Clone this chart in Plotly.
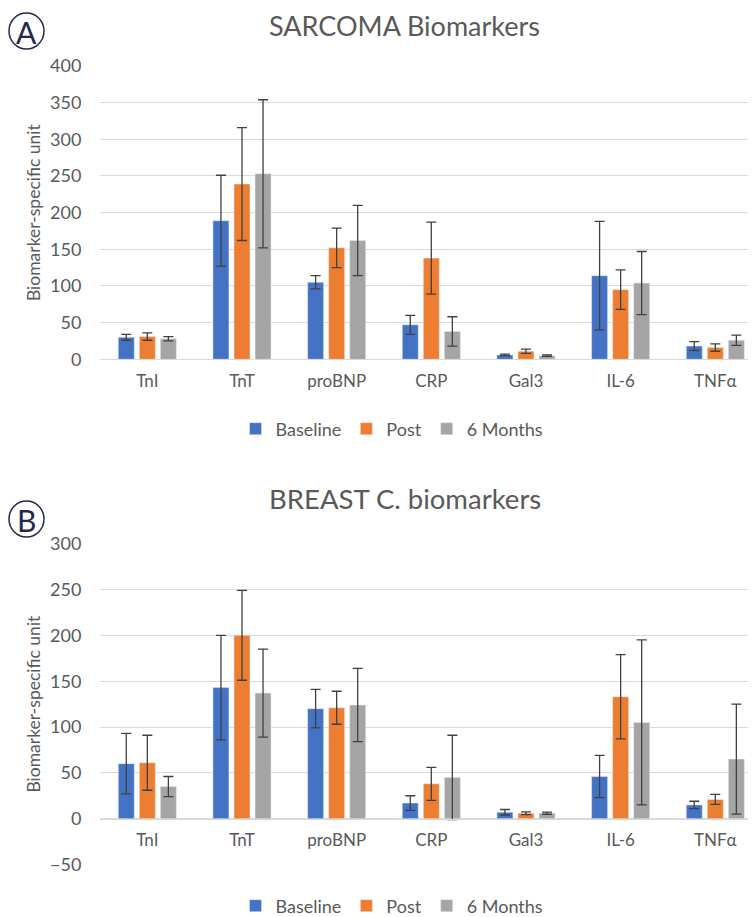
import plotly.graph_objects as go

categories = ["TnI", "TnT", "proBNP", "CRP", "Gal3", "IL-6", "TNFα"]
series_names = ["Baseline", "Post", "6 Months"]
colors = ["#4472C4", "#ED7D31", "#A5A5A5"]

# Panel A: SARCOMA
sarcoma_baseline = [30, 189, 105, 47, 6, 114, 18]
sarcoma_post = [31, 239, 152, 138, 11, 95, 16]
sarcoma_6m = [28, 253, 162, 38, 5, 104, 26]
sarcoma_baseline_err = [4, 62, 9, 13, 1, 74, 6]
sarcoma_post_err = [5, 77, 27, 49, 3, 27, 5]
sarcoma_6m_err = [3, 101, 48, 20, 1, 43, 7]

# Panel B: BREAST C.
breast_baseline = [60, 143, 120, 17, 7, 46, 15]
breast_post = [61, 200, 121, 38, 6, 133, 21]
breast_6m = [35, 137, 124, 45, 6, 105, 65]
breast_baseline_err = [33, 57, 21, 8, 3, 23, 4]
breast_post_err = [30, 49, 18, 18, 1.5, 46, 5.5]
breast_6m_err = [11, 48, 40, 46, 1.2, 90, 60]

title_a = "SARCOMA Biomarkers"
title_b = "BREAST C. biomarkers"
y_title = "Biomarker-specific unit"

FONT = "Lato, 'Open Sans', sans-serif"
TXT = "#595959"
OFF = 8  # page body margin
W, H = 756 - OFF, 917 - OFF

fig = go.Figure()

panel_a = [(sarcoma_baseline, sarcoma_baseline_err), (sarcoma_post, sarcoma_post_err), (sarcoma_6m, sarcoma_6m_err)]
panel_b = [(breast_baseline, breast_baseline_err), (breast_post, breast_post_err), (breast_6m, breast_6m_err)]

for i, (vals, errs) in enumerate(panel_a):
    fig.add_trace(go.Bar(
        x=categories, y=vals, name=series_names[i], marker_color=colors[i],
        error_y=dict(type="data", array=errs, color="#404040", thickness=1.3, width=5),
        xaxis="x", yaxis="y", legend="legend",
    ))
for i, (vals, errs) in enumerate(panel_b):
    fig.add_trace(go.Bar(
        x=categories, y=vals, name=series_names[i], marker_color=colors[i],
        error_y=dict(type="data", array=errs, color="#404040", thickness=1.3, width=5),
        xaxis="x2", yaxis="y2", legend="legend2",
    ))

def py(p):
    return 1 - (p - OFF) / H

def px(p):
    return (p - OFF) / W

x_dom = [px(100), 1.0]
common_x = dict(
    domain=x_dom, range=[-0.5, 6.43], showgrid=False, showline=True,
    linecolor="#d9d9d9", linewidth=1.3, ticks="outside", ticklen=6,
    tickcolor="rgba(0,0,0,0)", tickfont=dict(family=FONT, size=17, color=TXT),
    type="category", fixedrange=True, automargin=False,
)
common_y = dict(
    showgrid=True, gridcolor="#d9d9d9", gridwidth=1.3, zeroline=False,
    showline=False, ticks="outside", ticklen=14, tickcolor="rgba(0,0,0,0)",
    tickfont=dict(family=FONT, size=18, color=TXT),
    title=dict(text=y_title, font=dict(family=FONT, size=17.5, color=TXT), standoff=4),
    dtick=50, automargin=False,
)

fig.update_layout(
    width=W, height=H,
    margin=dict(l=0, r=0, t=0, b=0, autoexpand=False),
    paper_bgcolor="white", plot_bgcolor="white",
    barmode="group", bargap=0.333, bargroupgap=0.24,
    xaxis=dict(anchor="y", **common_x),
    yaxis=dict(domain=[py(359.3), py(66)], range=[0, 400], **common_y),
    xaxis2=dict(anchor="free", position=py(818.7), **common_x),
    yaxis2=dict(domain=[py(864.5), py(543.7)], range=[-50, 300], anchor="x2", **common_y),
    legend=dict(orientation="h", x=px(392), y=py(429), xanchor="center", yanchor="middle",
                font=dict(family=FONT, size=18, color=TXT), bgcolor="rgba(0,0,0,0)"),
    legend2=dict(orientation="h", x=px(392), y=py(906), xanchor="center", yanchor="middle",
                 font=dict(family=FONT, size=18, color=TXT), bgcolor="rgba(0,0,0,0)"),
    showlegend=True,
)

annotations = [
    dict(text=title_a, x=px(404), y=py(8), xref="paper", yref="paper", showarrow=False,
         xanchor="center", yanchor="top", borderpad=0,
         font=dict(family=FONT, size=27, color=TXT)),
    dict(text=title_b, x=px(405), y=py(498), xref="paper", yref="paper", showarrow=False,
         xanchor="center", yanchor="middle", font=dict(family=FONT, size=27.5, color=TXT)),
    dict(text="A", x=px(26.5), y=py(31.5), xref="paper", yref="paper", showarrow=False,
         xanchor="center", yanchor="middle", font=dict(family=FONT, size=30, color="#24284f")),
    dict(text="B", x=px(26.5), y=py(519.5), xref="paper", yref="paper", showarrow=False,
         xanchor="center", yanchor="middle", font=dict(family=FONT, size=30, color="#24284f")),
]
fig.update_layout(annotations=annotations)

for cy in (31, 519):
    fig.add_shape(type="circle", xref="paper", yref="paper",
                  x0=px(9), x1=px(44), y0=py(cy + 18), y1=py(cy - 18),
                  line=dict(color="#24284f", width=1.5))

fig.write_html("out.html")
